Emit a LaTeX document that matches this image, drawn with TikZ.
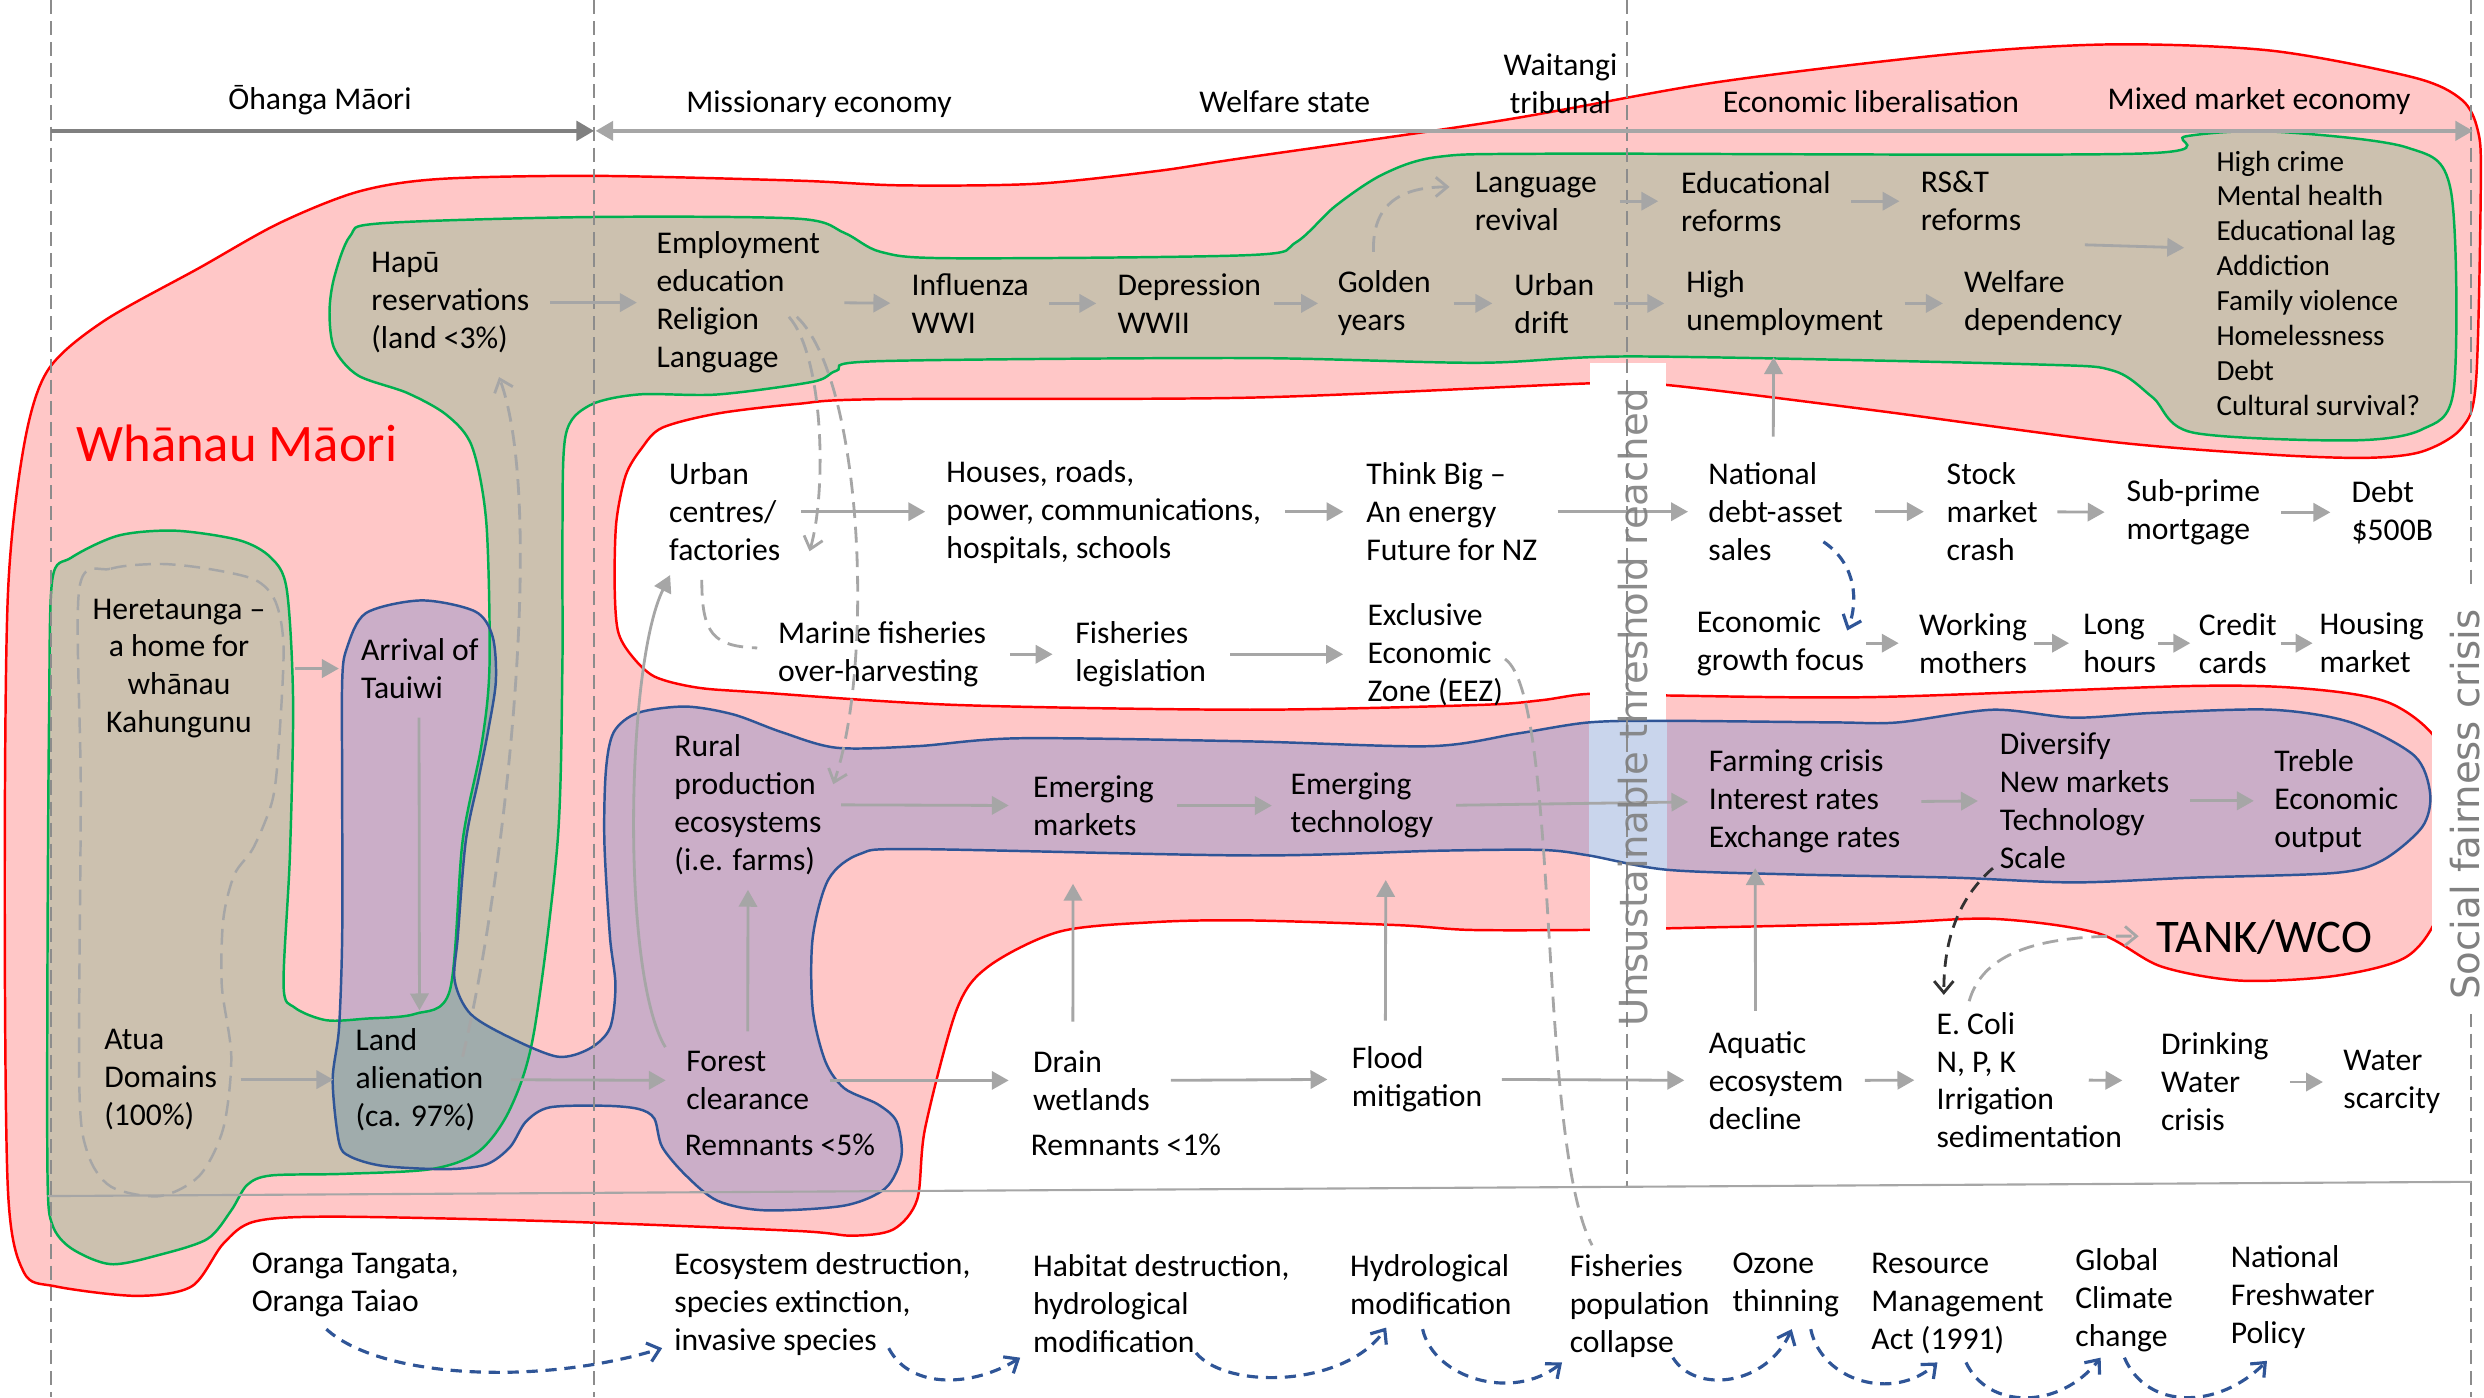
\documentclass[tikz,border=0pt]{standalone}
\usepackage{fontspec}
\setmainfont{Carlito}
\newfontfamily\rotfont{DejaVu Sans}
\usetikzlibrary{arrows.meta}
\newdimen\upx
\upx=0.015842cm
\definecolor{pinkfill}{RGB}{255,199,199}
\definecolor{redline}{RGB}{255,0,0}
\definecolor{tanfill}{RGB}{204,193,175}
\definecolor{greenline}{RGB}{0,176,80}
\definecolor{purplefill}{RGB}{203,174,200}
\definecolor{blueline}{RGB}{47,85,151}
\definecolor{tealfill}{RGB}{160,172,172}
\definecolor{colblue}{RGB}{201,213,236}
\definecolor{arrgray}{RGB}{166,166,166}
\definecolor{vgray}{RGB}{140,140,140}
\definecolor{tlgray}{RGB}{128,128,128}
\definecolor{rotgray}{RGB}{128,128,128}
\definecolor{darkdash}{RGB}{50,50,50}

\def\redpath{plot[smooth cycle,tension=0.5] coordinates {(5,375) (15,282) (30,234) (65,203) (126,169) (176,141) (226,121) (277,113) (375,111) (503,114) (569,117) (654,116) (730,108) (783,100) (948,76) (1083,52) (1233,34) (1334,28) (1434,32) (1524,49) (1554,63) (1564,82) (1566,113) (1563,240) (1554,270) (1529,285) (1494,289) (1434,287) (1334,279) (1183,259) (1052,243) (1003,242) (789,251) (554,252) (503,255) (453,261) (418,270) (405,283) (395,300) (389,330) (388,370) (390,398) (398,413) (413,427) (440,434) (478,437) (604,445) (789,448) (933,445) (973,442) (1003,438) (1052,439) (1183,440) (1384,433) (1459,435) (1509,444) (1540,470) (1550,520) (1540,575) (1519,604) (1474,616) (1414,619) (1364,610) (1324,589) (1258,580) (1183,583) (1052,586) (1003,587) (928,587) (883,584) (789,581) (730,582) (669,588) (624,610) (604,637) (584,712) (579,757) (564,776) (538,780) (503,777) (352,771) (211,768) (161,771) (141,785) (121,812) (86,818) (35,812) (15,803) (5,751) (3,560)}}

\def\greenpath{plot[smooth cycle,tension=0.5] coordinates {(211,175) (221,149) (240,141) (372,137) (503,138) (533,147) (556,159) (600,163) (789,161) (818,153) (843,130) (873,110) (908,99) (983,97) (1349,97) (1380,86) (1434,83) (1519,93) (1547,120) (1549,245) (1529,271) (1484,278) (1384,273) (1359,251) (1334,234) (1284,230) (1033,225) (933,229) (786,226) (554,228) (528,234) (513,241) (453,249) (403,249) (372,256) (357,275) (355,340) (355,420) (352,531) (337,652) (322,700) (302,727) (272,738) (216,741) (171,742) (156,748) (146,764) (131,782) (101,792) (70,798) (45,788) (33,773) (30,742) (30,600) (31,450) (33,366) (45,352) (75,338) (111,335) (151,341) (171,352) (181,372) (185,442) (183,540) (179,622) (186,636) (206,644) (231,643) (262,640) (284,625) (292,531) (304,470) (309,420) (307,330) (298,282) (282,262) (257,248) (226,237) (211,220) (208,197)}}

\def\purplepath{plot[smooth cycle,tension=0.5] coordinates {(231,387) (266,379) (300,386) (311,402) (313,430) (308,462) (302,492) (294,531) (289,591) (287,619) (297,640) (322,655) (352,667) (372,662) (385,649) (388.5,622) (385,591) (381.5,531) (382.5,486) (387.5,462) (402.6,450) (432.8,446) (463,451) (493,462) (528,472) (579,471) (644,466) (789,468) (903,471) (958,463) (1003,456) (1052,455) (1158,456) (1198,456) (1258,448) (1309,453) (1359,450) (1434,448) (1484,456) (1524,477) (1534,501) (1529,522) (1504,543) (1474,551) (1384,554) (1309,557) (1233,554) (1133,552) (1052,549) (1003,540) (973,536.5) (908,537) (789,540) (579,536) (543,539) (523,555) (513,592) (513,637) (521,670) (533,687) (554,697) (566,708) (569,730) (559,750) (533,761) (483,764) (453,758) (433,742) (418,724) (413,706) (403,700) (382,698) (347,699) (332,708) (322,724) (307,735) (282,738) (242,736) (221,730) (214,721) (210,682) (214,649) (216,591) (216,501) (216,430) (219,409)}}

\begin{document}
\begin{tikzpicture}[x=0.015842cm,y=-0.015842cm,
  txt/.style={anchor=west,align=left,inner sep=0pt,font=\fontsize{9}{10.8}\selectfont},
  ctxt/.style={anchor=center,align=center,inner sep=0pt,font=\fontsize{9}{10.8}\selectfont},
  ga/.style={draw=arrgray,line width=0.8pt,-{Triangle[length=4.8pt,width=5.2pt]}},
  sg/.style={shorten <=#1\upx},
  eg/.style={shorten >=#1\upx},
  gdash/.style={draw=arrgray,line width=0.8pt,dash pattern=on 4.5pt off 2.5pt},
  gdarr/.style={gdash,-{Straight Barb[length=3.3pt,width=5.5pt]}},
  bdarr/.style={draw=blueline,line width=0.9pt,dash pattern=on 3.2pt off 2.2pt,-{Straight Barb[length=3.3pt,width=5.5pt]}},
  kdarr/.style={draw=darkdash,line width=0.8pt,dash pattern=on 3.5pt off 2.2pt,-{Straight Barb[length=3.3pt,width=5.5pt]}},
  vline/.style={draw=vgray,line width=0.5pt,dash pattern=on 4pt off 2pt},
  rottxt/.style={rotate=90,anchor=base,inner sep=0pt,text=rotgray,font=\rotfont\fontsize{11}{13}\selectfont},
]
\useasboundingbox (0,0) rectangle (1568,882);

% ---------------- shapes ----------------
\path[fill=pinkfill] \redpath;
\path[fill=tanfill] \greenpath;
\path[fill=purplefill] \purplepath;
\begin{scope}
  \clip \greenpath;
  \path[fill=tealfill] \purplepath;
\end{scope}
% heretaunga dashed outline
\draw[draw=arrgray,line width=0.7pt,dash pattern=on 4.5pt off 2.5pt] plot[smooth cycle,tension=0.5] coordinates {(50,372) (70,359) (101,356) (131,359) (161,366) (174,380) (179,409) (176,470) (172,505) (160,535) (148,552) (141,580) (140,622) (146,667) (141,712) (126,742) (101,755) (70,749) (55,727) (50,682) (51,500)};
% outlines
\draw[redline,line width=0.7pt] \redpath;
% unsustainable threshold column
\fill[white] (1003.5,229) rectangle (1051.5,589);
\begin{scope}
  \clip \purplepath;
  \fill[colblue] (1003,229) rectangle (1052,589);
\end{scope}
\draw[greenline,line width=0.7pt] \greenpath;
\draw[blueline,line width=0.7pt] \purplepath;

% ---------------- frame lines ----------------
\draw[vline] (32,0) -- (32,882);
\draw[vline] (375,0) -- (375,882);
\draw[vline] (1027,0) -- (1027,750);
\draw[vline] (1560,0) -- (1560,882);
\draw[draw=arrgray,line width=0.6pt] (30,755) -- (1560,746);

% timeline
\coordinate (tlA) at (32,82.6);
\coordinate (tlB) at (375,82.6);
\coordinate (tlC) at (376,82.6);
\coordinate (tlD) at (1561,82.6);
\draw[draw=tlgray,line width=1.1pt,-{Triangle[length=5pt,width=5.5pt]}] (tlA) -- (tlB);
\draw[draw=arrgray,line width=1pt,{Triangle[length=5pt,width=5.5pt]}-{Triangle[length=5pt,width=5.5pt]}] (tlC) -- (tlD);
\node[ctxt] (t1) at (202,63) {Ōhanga Māori};
\node[ctxt] (t2) at (517,66) {Missionary economy};
\node[ctxt] (t3) at (811,64) {Welfare state};
\node[ctxt] (t4) at (985,53) {Waitangi\\tribunal};
\node[ctxt] (t5) at (1181,64) {Economic liberalisation};
\node[ctxt] (t6) at (1426,64) {Mixed market economy};

% ---------------- big labels ----------------
\node[anchor=west,inner sep=0pt,text=redline,font=\fontsize{15}{18}\selectfont] (whanau) at (47.8,280) {Whānau Māori};
\node[anchor=west,inner sep=0pt,font=\fontsize{13.3}{16}\selectfont] (tank) at (1361,591.5) {TANK/WCO};

% ---------------- top band ----------------
\node[txt] (hapu) at (234,191) {Hapū\\reservations\\(land <3\%)};
\node[txt] (emp) at (414,191) {Employment\\education\\Religion\\Language};
\node[txt] (flu) at (575,191.5) {Influenza\\WWI};
\node[txt] (dep) at (705,191.5) {Depression\\WWII};
\node[txt] (gold) at (844,191.5) {Golden\\years};
\node[txt] (drift) at (955.5,191.5) {Urban\\drift};
\node[txt] (unemp) at (1064,191.5) {High\\unemployment};
\node[txt] (welf) at (1239.4,191.5) {Welfare\\dependency};
\node[txt] (lang) at (930.5,127) {Language\\revival};
\node[txt] (edu) at (1060.7,127) {Educational\\reforms};
\node[txt] (rst) at (1212,127) {RS\&T\\reforms};
\node[txt,font=\fontsize{8.3}{9.92}\selectfont] (list) at (1398.7,178.7) {High crime\\Mental health\\Educational lag\\Addiction\\Family violence\\Homelessness\\Debt\\Cultural survival?};

\draw[ga,sg=13,eg=12] (hapu.east) -- (emp.west);
\draw[ga,sg=15,eg=13] (emp.east) -- (flu.west);
\draw[ga,sg=12.5,eg=13] (flu.east) -- (dep.west);
\draw[ga,sg=8,eg=12] (dep.east) -- (gold.west);
\draw[ga,sg=14,eg=13.5] (gold.east) -- (drift.west);
\draw[ga,sg=12,eg=13.5] (drift.east) -- (unemp.west);
\draw[ga,sg=13,eg=13] (unemp.east) -- (welf.west);
\draw[ga,sg=14,eg=14] (lang.east) -- (edu.west);
\draw[ga,sg=12.5,eg=13] (edu.east) -- (rst.west);
\draw[ga] ([xshift=-24\upx,yshift=16\upx]welf.north east) -- ([xshift=-20\upx,yshift=22.3\upx]list.west);

% ---------------- middle white region ----------------
\node[txt] (urban) at (422,323) {Urban\\centres/\\factories};
\node[txt] (houses) at (597,323) {Houses, roads,\\power, communications,\\hospitals, schools};
\node[txt] (think) at (862,323) {Think Big –\\An energy\\Future for NZ};
\node[txt] (natl) at (1078,323) {National\\debt-asset\\sales};
\node[txt] (stock) at (1228.4,323) {Stock\\market\\crash};
\node[txt] (sub) at (1342,323.4) {Sub-prime\\mortgage};
\node[txt] (debt) at (1484,323.4) {Debt\\\$500B};
\node[txt] (marine) at (490.7,413) {Marine fisheries\\over-harvesting};
\node[txt] (fleg) at (678.4,413) {Fisheries\\legislation};
\node[txt] (eez) at (862.8,413) {Exclusive\\Economic\\Zone (EEZ)};
\node[txt] (egf) at (1070.7,406) {Economic\\growth focus};
\node[txt] (work) at (1211,406) {Working\\mothers};
\node[txt] (long) at (1314.6,406) {Long\\hours};
\node[txt] (credit) at (1387.6,406) {Credit\\cards};
\node[txt] (housing) at (1463.8,406) {Housing\\market};

\draw[ga,sg=13,eg=13] (urban.east) -- (houses.west);
\draw[ga,sg=14.8,eg=14] (houses.east) -- (think.west);
\draw[ga,sg=12.4,eg=12.5] (think.east) -- (natl.west);
\draw[ga,sg=19.7,eg=14] (natl.east) -- (stock.west);
\draw[ga,sg=12,eg=13.5] (stock.east) -- (sub.west);
\draw[ga,sg=12.8,eg=13] (sub.east) -- (debt.west);
\draw[ga,sg=14.6,eg=14] (marine.east) -- (fleg.west);
\draw[ga,sg=15,eg=15] (fleg.east) -- (eez.west);
\draw[ga,sg=1,eg=12.5] (egf.east) -- (work.west);
\draw[ga,sg=4,eg=8.6] (work.east) -- (long.west);
\draw[ga,sg=1,eg=5] (long.east) -- (credit.west);
\draw[ga,sg=2,eg=4] (credit.east) -- (housing.west);
\draw[ga,sg=16,eg=13] ([xshift=-1.5\upx]natl.north) -- ([xshift=-7\upx]unemp.south);

% ---------------- purple band ----------------
\node[txt] (rural) at (425.3,508) {Rural\\production\\ecosystems\\(i.e. farms)};
\node[txt] (emkt) at (651.7,508.5) {Emerging\\markets};
\node[txt] (etech) at (814.3,508.5) {Emerging\\technology};
\node[txt] (farm) at (1078.2,506) {Farming crisis\\Interest rates\\Exchange rates};
\node[txt] (divers) at (1262,505.5) {Diversify\\New markets\\Technology\\Scale};
\node[txt] (treble) at (1435.2,505.5) {Treble\\Economic\\output};

\draw[ga,sg=12,eg=15] (rural.east) -- (emkt.west);
\draw[ga,sg=14,eg=11.5] (emkt.east) -- (etech.west);
\draw[ga,sg=14,eg=12.5] (etech.east) -- (farm.west);
\draw[ga,sg=13,eg=13.5] (farm.east) -- (divers.west);
\draw[ga,sg=13,eg=12.5] (divers.east) -- (treble.west);

% ---------------- left group ----------------
\node[ctxt] (heret) at (113,422) {Heretaunga –\\a home for\\whānau\\Kahungunu};
\node[txt] (arrival) at (227.5,422) {Arrival of\\Tauiwi};
\draw[ga,sg=18,eg=13.6] (heret.east) -- (arrival.west);

% ---------------- bottom row ----------------
\node[txt] (atua) at (65.4,681.5) {Atua\\Domains\\(100\%)};
\node[txt] (land) at (224,681.5) {Land\\alienation\\(ca. 97\%)};
\node[txt] (forest) at (432.8,682) {Forest\\clearance};
\node[txt] (rem5) at (431.8,722.8) {Remnants <5\%};
\node[txt] (drain) at (651.7,682) {Drain\\wetlands};
\node[txt] (rem1) at (650.2,722.8) {Remnants <1\%};
\node[txt] (flood) at (852.9,681.3) {Flood\\mitigation};
\node[txt] (aqua) at (1078.2,682) {Aquatic\\ecosystem\\decline};
\node[txt] (ecoli) at (1222,681.8) {E. Coli\\N, P, K\\Irrigation\\sedimentation};
\node[txt] (drink) at (1363.7,683) {Drinking\\Water\\crisis};
\node[txt] (wsc) at (1478.8,683) {Water\\scarcity};

\draw[ga,sg=11.6,eg=11] ([xshift=-0.5\upx]arrival.south) -- (land.north);
\draw[ga,sg=14.4,eg=13.6] (atua.east) -- (land.west);
\draw[ga,sg=17,eg=12.6] (land.east) -- (forest.west);
\draw[ga,sg=12.4,eg=15] (forest.east) -- (drain.west);
\draw[ga,sg=13,eg=15] (drain.east) -- (flood.west);
\draw[ga,sg=12,eg=15] (flood.east) -- (aqua.west);
\draw[ga,sg=13,eg=13.6] (aqua.east) -- (ecoli.west);
\draw[ga] ([xshift=-21.4\upx]ecoli.east) -- ([xshift=-24\upx,yshift=1\upx]drink.west);
\draw[ga,sg=13,eg=12.5] (drink.east) -- (wsc.west);
% vertical arrows into the purple band
\draw[ga,sg=12,eg=9] (forest.north) -- (rural.south);
\draw[ga,sg=17.7,eg=30] ([xshift=-11.7\upx]drain.north) -- ([xshift=-12.9\upx]emkt.south);
\draw[ga,sg=16,eg=26] ([xshift=-20\upx]flood.north) -- ([xshift=15.1\upx]etech.south);
\draw[ga,sg=12.6,eg=9] ([xshift=-13\upx]aqua.north) -- ([xshift=-31.1\upx]farm.south);

% ---------------- bottom labels ----------------
\node[txt] (b1) at (158.5,811) {Oranga Tangata,\\Oranga Taiao};
\node[txt] (b2) at (425.3,823) {Ecosystem destruction,\\species extinction,\\invasive species};
\node[txt] (b3) at (651.7,823) {Habitat destruction,\\hydrological\\modification};
\node[txt] (b4) at (851.8,811) {Hydrological\\modification};
\node[txt] (b5) at (990.5,824.7) {Fisheries\\population\\collapse};
\node[txt] (b6) at (1093.2,811) {Ozone\\thinning};
\node[txt] (b7) at (1180.9,822.6) {Resource\\Management\\Act (1991)};
\node[txt] (b8) at (1309.6,820.5) {Global\\Climate\\change};
\node[txt] (b9) at (1407.7,819) {National\\Freshwater\\Policy};

% ---------------- curved connectors ----------------
\coordinate (cLs) at (292,667);   \coordinate (cLe) at (315,238);
\draw[gdarr] (cLs) .. controls (318,560) and (345,320) .. (cLe);
\coordinate (cE1s) at (498,200);  \coordinate (cE1e) at (511,348);
\draw[gdarr] (cE1s) .. controls (520,225) and (522,310) .. (cE1e);
\coordinate (cE2s) at (503,200);  \coordinate (cE2e) at (526,495);
\draw[gdarr] (cE2s) .. controls (545,240) and (552,420) .. (cE2e);
\coordinate (cUs) at (443,366);   \coordinate (cUe) at (478,409);
\draw[gdash] (cUs) .. controls (443,400) and (450,408) .. (cUe);
\coordinate (cGs) at (867,159);   \coordinate (cGe) at (915,118);
\draw[gdarr] (cGs) .. controls (866,128) and (885,118) .. (cGe);
\coordinate (cXs) at (950,416);   \coordinate (cXe) at (1005,786);
\draw[gdash] (cXs) .. controls (985,440) and (970,720) .. (cXe);
\coordinate (cFs) at (420,661);   \coordinate (cFe) at (423,363);
\draw[ga] (cFs) .. controls (392,615) and (395,420) .. (cFe);
\coordinate (cNs) at (1151,342);  \coordinate (cNe) at (1166,398);
\draw[bdarr] (cNs) .. controls (1172,356) and (1173,380) .. (cNe);
\coordinate (cSs) at (1258,548);  \coordinate (cSe) at (1227,628);
\draw[kdarr] (cSs) .. controls (1235,568) and (1227,595) .. (cSe);
\coordinate (cTs) at (1243,632);  \coordinate (cTe) at (1350,591);
\draw[gdarr] (cTs) .. controls (1252,600) and (1290,590) .. (cTe);
% bottom blue arcs
\coordinate (a1s) at (206,839);   \coordinate (a1e) at (418,851);
\draw[bdarr] (a1s) .. controls (240,870) and (340,875) .. (a1e);
\coordinate (a2s) at (561,851);   \coordinate (a2e) at (644,857);
\draw[bdarr] (a2s) .. controls (575,878) and (615,875) .. (a2e);
\coordinate (a3s) at (755,854);   \coordinate (a3e) at (875,838);
\draw[bdarr] (a3s) .. controls (775,878) and (850,875) .. (a3e);
\coordinate (a4s) at (898,839);   \coordinate (a4e) at (986,860);
\draw[bdarr] (a4s) .. controls (905,870) and (955,885) .. (a4e);
\coordinate (a5s) at (1056,857);  \coordinate (a5e) at (1131,839);
\draw[bdarr] (a5s) .. controls (1070,880) and (1115,875) .. (a5e);
\coordinate (a6s) at (1143,839);  \coordinate (a6e) at (1223,860);
\draw[bdarr] (a6s) .. controls (1150,872) and (1195,885) .. (a6e);
\coordinate (a7s) at (1241,860);  \coordinate (a7e) at (1326,857);
\draw[bdarr] (a7s) .. controls (1255,890) and (1300,890) .. (a7e);
\coordinate (a8s) at (1341,857);  \coordinate (a8e) at (1431,859);
\draw[bdarr] (a8s) .. controls (1355,890) and (1400,890) .. (a8e);

% ---------------- rotated labels ----------------
\node[rottxt,text opacity=0.9] (unsus) at (1040,446.5) {Unsustainable threshold reached};
\fill[white] (1535,372) rectangle (1575,640);
\node[rottxt] (social) at (1565,508) {Social fairness crisis};
\end{tikzpicture}
\end{document}
